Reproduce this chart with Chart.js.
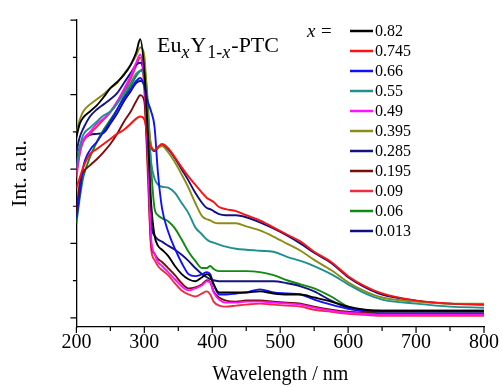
<!DOCTYPE html>
<html>
<head>
<meta charset="utf-8">
<script src="https://cdn.jsdelivr.net/npm/chart.js@4.4.0/dist/chart.umd.min.js"></script>
<style>
  html, body { margin: 0; padding: 0; background: #fff; }
  #wrap { width: 502px; height: 387px; }
</style>
</head>
<body>
<div id="wrap"><canvas id="chart" width="502" height="387"></canvas></div>
<script>
// wavelength grid (nm)
const wavelengths = [200, 205, 210, 220, 230, 240, 250, 260, 270, 280, 288, 294, 300, 305, 310, 315, 320, 326, 335, 345,
    355, 365, 375, 385, 392, 397, 402, 410, 420, 435, 450, 470, 490, 510, 530, 550, 575, 600, 625, 650, 700, 750, 800];

// intensities (a.u.)
const int082  = [178,191,197,203,209,217,226,232,239,249, 261,274,243,183,113,81,71,67,61,51, 43,38,36,40,43,41,33,25,25,25, 25,26,24,23,23,20,16,11,8,7, 7,7,7];
const int0745 = [128,138,148,161,166,171,176,181,185,191, 196,198,195,178,168,165,168,171,167,158, 148,139,131,123,118,116,114,109,107,105, 101,96,89,82,75,65,55,41,31,24, 17,14,13];
const int066  = [98,123,148,165,173,183,193,205,216,225, 233,236,228,213,203,188,143,108,85,68, 54,43,41,43,45,43,33,23,23,24, 25,28,25,24,23,18,13,9,7,7, 7,7,7];
const int055  = [148,168,180,187,193,199,203,211,221,231, 240,243,238,193,153,137,131,129,128,123, 113,103,89,82,77,75,74,72,70,68, 67,66,65,60,56,51,43,33,24,18, 14,11,10];
const int049  = [143,163,175,183,191,196,203,213,225,238, 251,259,233,163,78,63,55,51,45,38, 31,27,29,32,36,35,25,18,15,15, 16,16,15,14,13,10,7,5,4,3, 3,3,3];
const int0395 = [183,195,203,210,215,220,226,231,240,249, 258,266,258,203,170,165,167,169,163,153, 141,128,113,100,97,96,94,93,93,93, 90,86,80,73,66,57,47,35,26,20, 16,14,14];
const int0285 = [163,178,186,198,205,210,215,221,231,241, 249,251,238,163,93,81,77,75,71,67, 62,56,49,43,40,38,37,36,36,36, 36,36,36,34,31,26,17,10,7,6, 6,6,6];
const int0195 = [103,133,143,150,156,163,171,181,193,203, 213,219,213,153,73,63,58,55,49,42, 34,29,30,33,37,35,26,20,17,16, 17,17,16,15,14,11,8,6,5,4, 4,4,4];
const int009  = [138,161,173,181,188,195,202,211,223,235, 248,256,223,143,68,57,51,47,42,34, 27,23,21,24,26,23,16,12,11,12, 13,14,13,12,11,8,6,4,3,2, 2,2,2];
const int006  = [93,118,138,158,173,185,195,205,218,228, 238,243,245,213,148,108,101,98,95,88, 77,65,56,49,49,51,48,46,46,46, 46,45,42,37,33,29,21,11,6,4, 3,3,3];
const int0013 = [153,168,175,180,181,182,191,201,213,223, 231,233,228,193,168,164,167,170,166,157, 146,135,123,113,108,107,105,102,101,101, 99,94,88,81,73,64,54,40,30,23, 17,14,13];

const seriesLabels = ['0.82', '0.745', '0.66', '0.55', '0.49', '0.395', '0.285', '0.195', '0.09', '0.06', '0.013'];
const seriesValues = [int082, int0745, int066, int055, int049, int0395, int0285, int0195, int009, int006, int0013];
const seriesColors = ['#000000', '#ff1010', '#1010ff', '#1f8f8f', '#ff10ff', '#8c8c14', '#14147f', '#7f0a0a', '#ee2c44', '#108a10', '#101080'];

const xTicksMajor = [200, 300, 400, 500, 600, 700, 800];
const xTicksMinor = [250, 350, 450, 550, 650, 750];
const yTickStep = 36.6;   // a.u. between y tick marks

const serif = '"Liberation Serif", "Times New Roman", serif';

const decor = {
    id: 'decor',
    afterDraw(chart) {
        const { ctx, scales: { x, y } } = chart;
        const y0 = y.getPixelForValue(y.min);
        const x0 = x.getPixelForValue(x.min);
        ctx.save();
        ctx.strokeStyle = '#000';
        ctx.lineWidth = 1.2;
        ctx.beginPath();
        xTicksMajor.forEach(v => { const p = x.getPixelForValue(v); ctx.moveTo(p, y0); ctx.lineTo(p, y0 + 6); });
        xTicksMinor.forEach(v => { const p = x.getPixelForValue(v); ctx.moveTo(p, y0); ctx.lineTo(p, y0 + 4); });
        for (let i = 0; i * yTickStep <= y.max; i++) {
            const p = y.getPixelForValue(i * yTickStep);
            ctx.moveTo(x0, p);
            ctx.lineTo(x0 - (i % 2 === 0 ? 6 : 3.5), p);
        }
        ctx.stroke();

        // sample name inside the plot
        ctx.fillStyle = '#000';
        ctx.textBaseline = 'alphabetic';
        let tx = 157;
        const seg = (t, font, dy, gap) => { ctx.font = font; ctx.fillText(t, tx, 52 + dy); tx += ctx.measureText(t).width + gap; };
        seg('Eu', '22px ' + serif, 0, 0);
        seg('x', 'italic 18px ' + serif, 6, 1);
        seg('Y', '22px ' + serif, 0, 1);
        seg('1-', '18px ' + serif, 6, 0);
        seg('x', 'italic 18px ' + serif, 6, 1);
        seg('-PTC', '22px ' + serif, 0, 0);

        // legend
        ctx.font = 'italic 19px ' + serif;
        ctx.textBaseline = 'middle';
        ctx.fillText('x', 307, 32);
        ctx.font = '19px ' + serif;
        ctx.fillText('=', 321, 32);
        ctx.font = '16px ' + serif;
        seriesLabels.forEach((lab, i) => {
            const ry = 31 + 20 * i;
            ctx.strokeStyle = seriesColors[i];
            ctx.lineWidth = 2.5;
            ctx.beginPath();
            ctx.moveTo(350, ry);
            ctx.lineTo(373, ry);
            ctx.stroke();
            ctx.fillStyle = '#000';
            ctx.fillText(lab, 375, ry + 1);
        });
        ctx.restore();
    }
};

new Chart(document.getElementById('chart'), {
    type: 'line',
    data: {
        datasets: seriesLabels.map((lab, i) => ({
            label: lab,
            data: wavelengths.map((w, j) => ({ x: w, y: seriesValues[i][j] })),
            borderColor: seriesColors[i],
            borderWidth: 1.9,
            pointRadius: 0,
            fill: false,
            cubicInterpolationMode: 'monotone'
        }))
    },
    options: {
        responsive: false,
        animation: false,
        layout: { padding: { left: 0, right: 18, top: 20, bottom: 0 } },
        plugins: { legend: { display: false }, tooltip: { enabled: false } },
        scales: {
            x: {
                type: 'linear', min: 200, max: 800,
                grid: { display: false, drawTicks: false },
                border: { display: true, color: '#000', width: 1.3 },
                ticks: { stepSize: 100, color: '#000', padding: 3, font: { family: serif, size: 20, lineHeight: 1.3 } },
                title: { display: true, text: 'Wavelength / nm', color: '#000', font: { family: serif, size: 20, lineHeight: 1.0 }, padding: { top: 6, bottom: 2 } }
            },
            y: {
                min: -9, max: 293,
                grid: { display: false, drawTicks: false },
                border: { display: true, color: '#000', width: 1.3 },
                ticks: { display: false },
                title: { display: true, text: 'Int. a.u.', color: '#000', font: { family: serif, size: 22 }, padding: { top: 7, bottom: 43 } }
            }
        }
    },
    plugins: [decor]
});
</script>
</body>
</html>
